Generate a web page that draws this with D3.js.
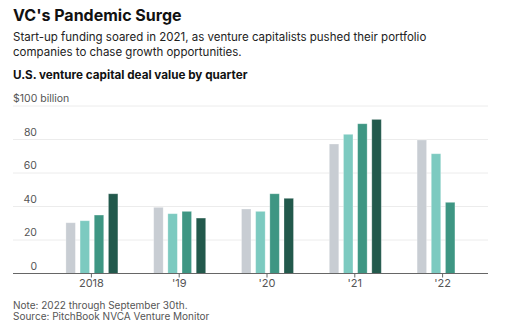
<!DOCTYPE html>
<html>
<head>
<meta charset="utf-8">
<script src="https://cdn.jsdelivr.net/npm/d3@7"></script>
<style>
  body { margin: 0; background: #fff; }
  text { font-family: Inter, "Noto Sans", sans-serif; }
</style>
</head>
<body>
<div id="chart"></div>
<script>
// données
const years = ["2018", "'19", "'20", "'21", "'22"];
const quarters = ["Q1", "Q2", "Q3", "Q4"];
const q1 = [30.3, 39.5, 38.5, 77.3, 79.7];
const q2 = [31.5, 35.7, 37.1, 83.1, 71.5];
const q3 = [34.9, 37.1, 47.6, 89.4, 42.5];
const q4 = [47.6, 33.1, 44.9, 92.0, null];
const yTicks = [0, 20, 40, 60, 80, 100];

const series = [q1, q2, q3, q4];
const colors = ["#c8cdd3", "#7ccac0", "#3e9683", "#22594c"];

const W = 508, H = 334;
const svg = d3.select("#chart").append("svg")
  .attr("width", W).attr("height", H);

// titres
svg.append("text").attr("x", 13).attr("y", 21)
  .style("font-size", "16px").style("font-weight", 700).attr("fill", "#111")
  .text("VC's Pandemic Surge");
svg.append("text").attr("x", 13).attr("y", 41)
  .style("font-size", "11.5px").attr("fill", "#222")
  .text("Start-up funding soared in 2021, as venture capitalists pushed their portfolio");
svg.append("text").attr("x", 13).attr("y", 56)
  .style("font-size", "11.5px").attr("fill", "#222")
  .text("companies to chase growth opportunities.");
svg.append("text").attr("x", 13).attr("y", 79)
  .style("font-size", "11.7px").style("font-weight", 700).attr("fill", "#111")
  .text("U.S. venture capital deal value by quarter");

// échelles
const y = d3.scaleLinear().domain([0, 100]).range([273.5, 106]);
const x = d3.scaleBand().domain(years).range([47, 486]);
const xq = d3.scaleBand().domain(quarters).range([-25, 27]).paddingInner(0.33);

// grille
svg.append("g").selectAll("line").data(yTicks.filter(d => d > 0)).join("line")
  .attr("x1", 13).attr("x2", 488)
  .attr("y1", d => y(d)).attr("y2", d => y(d))
  .attr("stroke", "#ececec").attr("stroke-width", 1);

svg.append("g").selectAll("text").data(yTicks).join("text")
  .attr("x", d => d === 100 ? 13 : 37)
  .attr("y", d => y(d) - 4)
  .attr("text-anchor", d => d === 100 ? "start" : "end")
  .style("font-size", "10.5px").attr("fill", "#555")
  .text(d => d === 100 ? "$100 billion" : d);

// barres
series.forEach((s, i) => {
  svg.append("g").selectAll("rect")
    .data(years.map((yr, j) => ({ yr, v: s[j] })).filter(d => d.v != null))
    .join("rect")
    .attr("x", d => x(d.yr) + x.bandwidth() / 2 + xq(quarters[i]))
    .attr("width", xq.bandwidth())
    .attr("y", d => y(d.v))
    .attr("height", d => y(0) - y(d.v))
    .attr("fill", colors[i])
    .attr("stroke", "#fff").attr("stroke-opacity", 0.35).attr("stroke-width", 0.8);
});

// axe x
const xAxis = d3.axisBottom(d3.scalePoint().domain(years)
  .range([x(years[0]) + x.bandwidth() / 2, x(years[4]) + x.bandwidth() / 2]))
  .tickSize(4).tickPadding(2);
const gx = svg.append("g").attr("transform", `translate(0,${y(0)})`).call(xAxis);
gx.select(".domain").remove();
gx.selectAll("line").attr("stroke", "#666");
gx.selectAll("text").style("font-size", "11px").attr("fill", "#555")
  .style("font-family", "Inter, 'Noto Sans', sans-serif");
svg.append("line").attr("x1", 13).attr("x2", 488)
  .attr("y1", y(0)).attr("y2", y(0)).attr("stroke", "#666").attr("stroke-width", 1);

// notes
svg.append("text").attr("x", 13).attr("y", 308.5)
  .style("font-size", "10px").attr("fill", "#555")
  .text("Note: 2022 through September 30th.");
svg.append("text").attr("x", 13).attr("y", 319.5)
  .style("font-size", "10px").attr("fill", "#555")
  .text("Source: PitchBook NVCA Venture Monitor");
</script>
</body>
</html>
